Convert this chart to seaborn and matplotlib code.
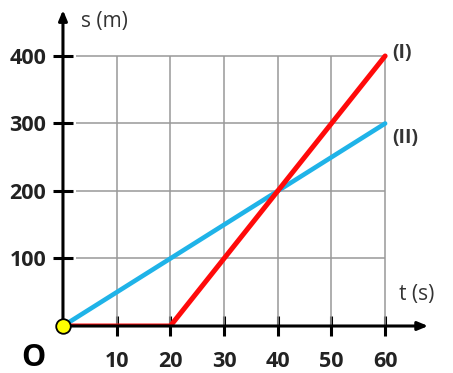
import pandas as pd
import seaborn as sns
import matplotlib.pyplot as plt

# position-time data for the two motions
t_one = [0, 20, 60]
s_one = [0, 0, 400]
t_two = [0, 60]
s_two = [0, 300]
x_ticks = [10, 20, 30, 40, 50, 60]
y_ticks = [100, 200, 300, 400]

sns.set_style("white")
plt.rcParams['font.family'] = ['Open Sans', 'DejaVu Sans']

df_one = pd.DataFrame({'t': t_one, 's': s_one})
df_two = pd.DataFrame({'t': t_two, 's': s_two})

fig = plt.figure(figsize=(4.53, 3.73), dpi=100)
ax = fig.add_axes([0.139, 0.126, 0.806, 0.847])
ax.set_xlim(0, 68)
ax.set_ylim(0, 468)

# grid only inside the 0..60 / 0..400 box
ax.hlines(y_ticks, 2.4, 60, color='#999999', lw=1.1, zorder=1)
ax.vlines(x_ticks, 0, 400, color='#999999', lw=1.1, zorder=1)

sns.lineplot(data=df_two, x='t', y='s', color='#1fb3e8', lw=3.3, ax=ax, zorder=3)
sns.lineplot(data=df_one, x='t', y='s', color='#ff0a0a', lw=3.6, ax=ax, zorder=4)
sns.scatterplot(x=[0], y=[0], color='#ffff00', edgecolor='black', s=110,
                linewidth=1.3, ax=ax, zorder=6, clip_on=False)

# axes drawn as arrows
for sp in ax.spines.values():
    sp.set_visible(False)
ax.annotate('', xy=(68, 0), xytext=(0, 0), annotation_clip=False,
            arrowprops=dict(arrowstyle='-|>,head_length=0.6,head_width=0.25',
                            lw=2.2, color='black', shrinkA=0, shrinkB=0), zorder=5)
ax.annotate('', xy=(0, 468), xytext=(0, 0), annotation_clip=False,
            arrowprops=dict(arrowstyle='-|>,head_length=0.6,head_width=0.25',
                            lw=2.2, color='black', shrinkA=0, shrinkB=0), zorder=5)

ax.set_xticks(x_ticks)
ax.set_yticks(y_ticks)
ax.set_xticklabels([str(v) for v in x_ticks], fontsize=15.5, fontweight='bold', color='#222222')
ax.set_yticklabels([str(v) for v in y_ticks], fontsize=15.5, fontweight='bold', color='#222222')
ax.tick_params(axis='both', direction='inout', length=14, width=2.2, color='black',
               bottom=True, left=True)
ax.tick_params(axis='x', pad=11)
ax.tick_params(axis='y', pad=5)
ax.set_xlabel('')
ax.set_ylabel('')

ax.text(3.3, 451, 's (m)', fontsize=15, color='#333333', va='center', ha='left')
ax.text(62.6, 46, 't (s)', fontsize=15, color='#333333', va='center', ha='left')
ax.text(61.3, 405, '(I)', fontsize=14, fontweight='bold', color='#333333', va='center', ha='left')
ax.text(61.3, 279, '(II)', fontsize=14, fontweight='bold', color='#333333', va='center', ha='left')
ax.text(-5.5, -47, 'O', fontsize=22, fontweight='bold', color='black', va='center',
        ha='center', clip_on=False)

plt.savefig('out.png', dpi=100)
